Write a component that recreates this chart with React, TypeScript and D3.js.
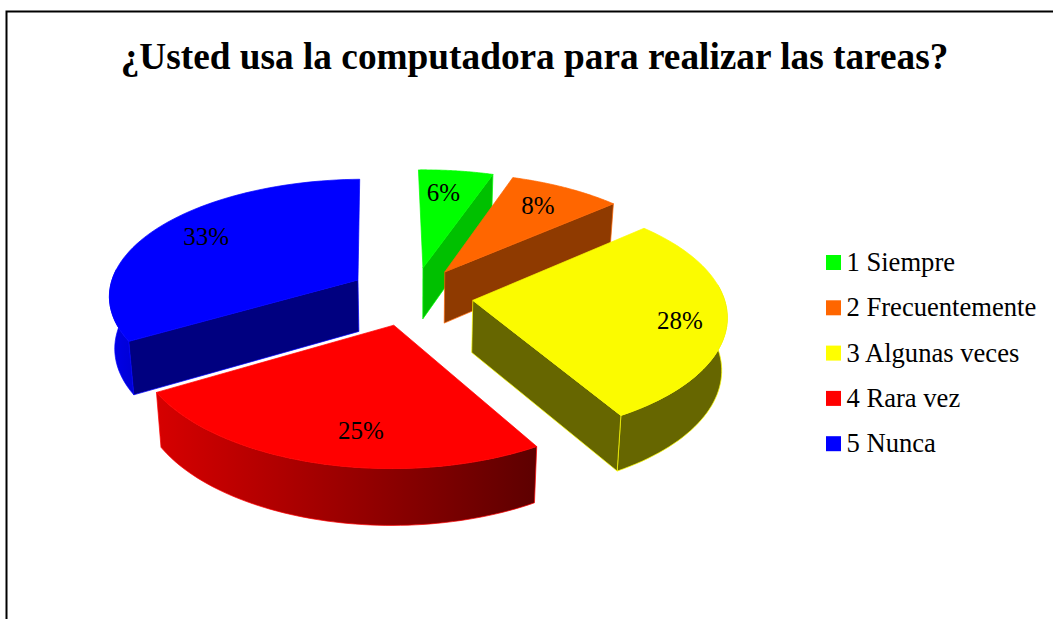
import React from "react";
import * as d3 from "d3";

const titleText = "¿Usted usa la computadora para realizar las tareas?";
const categories = ["1 Siempre", "2 Frecuentemente", "3 Algunas veces", "4 Rara vez", "5 Nunca"];
const values = [5.5, 8.3, 28, 25, 33.2];
const legendColors = ["#00FF00", "#FF6600", "#FFFF00", "#FF0000", "#0000FF"];
const topColors = ["#00FF00", "#FF6600", "#FBFB00", "#FF0000", "#0000FF"];
const faceColors = ["#00C000", "#8F3A00", "#666600", "#660000", "#000080"];
const wallColors = ["#00C000", "#8F3A00", "#666600", "url(#redWall)", "url(#blueWall)"];
const cutFaces = ["end", "end", "end", "none", "start"];
const labelRadius = [0.72, 0.75, 0.86, 0.78, 0.8];
const labelShiftX = [-3, 0, -9, 21, 5];
const labelShiftY = [-3, -1, 6, 6, -2];
const sliceShiftX = [1, 0, 2, -4, -5];
const sliceShiftY = [0, 0, 2, 4, -1];

const WIDTH = 1053;
const HEIGHT = 619;
const CX = 413;
const CY = 294;
const RX = 250;
const RY = 117;
const PERSPECTIVE_X = 0.12;
const PERSPECTIVE_Y = 0.13;
const EXPLODE = 0.233;
const SKEW = 3.5;
const TILT = 2;
const DEPTH = 52;
const DEPTH_GROW = 4;
const BOTTOM_SHRINK = 0.982;
const WALL_LIMIT = -0.12;

type P = [number, number];

// ground plane (X to the right, Y towards the viewer) to screen
function project(X: number, Y: number, low: boolean): P {
  let x = CX + (RX * X) / (1 - PERSPECTIVE_X * Y) + SKEW * Y;
  let y = CY + (RY * Y) / (1 - PERSPECTIVE_Y * Y) - TILT * X;
  if (low) {
    x = CX + (x - CX) * BOTTOM_SHRINK;
    y += DEPTH + DEPTH_GROW * Y;
  }
  return [x, y];
}

const pieLayout = d3.pie<number>().sort(null).startAngle(0).endAngle(2 * Math.PI);
const arcs = pieLayout(values);
const line = d3.line<P>();

function pointOn(mid: number, angle: number, r: number, low: boolean): P {
  return project(
    EXPLODE * Math.sin(mid) + r * Math.sin(angle),
    -EXPLODE * Math.cos(mid) - r * Math.cos(angle),
    low
  );
}

function sweep(a: (typeof arcs)[number]): number[] {
  return d3.range(0, 61).map((i) => a.startAngle + ((a.endAngle - a.startAngle) * i) / 60);
}

export default function App() {
  return (
    <svg
      width={WIDTH}
      height={HEIGHT}
      style={{ position: "absolute", left: 0, top: 0, background: "#fff" }}
      fontFamily="'Liberation Serif', serif"
    >
      <defs>
        <linearGradient id="redWall" gradientUnits="userSpaceOnUse" x1={155} x2={538} y1={0} y2={0}>
          <stop offset="0" stopColor="#D80000" />
          <stop offset="1" stopColor="#5E0000" />
        </linearGradient>
        <linearGradient id="blueWall" gradientUnits="userSpaceOnUse" x1={110} x2={135} y1={0} y2={0}>
          <stop offset="0" stopColor="#0000F0" />
          <stop offset="1" stopColor="#0000D8" />
        </linearGradient>
      </defs>

      <path d="M1053,11.5 H6.5 V619" fill="none" stroke="#000" strokeWidth={2} />

      <text x={534.5} y={69} textAnchor="middle" fontSize={37.3} fontWeight="bold" fill="#000">
        {titleText}
      </text>

      {arcs.map((a, i) => {
        const mid = (a.startAngle + a.endAngle) / 2;
        const angles = sweep(a);
        const top = angles.map((t) => pointOn(mid, t, 1, false));
        const wallAngles = angles.filter((t) => -Math.cos(t) > WALL_LIMIT);
        const wallTop = wallAngles.map((t) => pointOn(mid, t, 1, false));
        const wallLow = wallAngles.map((t) => pointOn(mid, t, 1, true));
        const apexTop = pointOn(mid, mid, 0, false);
        const apexLow = pointOn(mid, mid, 0, true);
        const edge = cutFaces[i] === "end" ? a.endAngle : a.startAngle;
        const stroke = legendColors[i];
        return (
          <g key={categories[i]} transform={`translate(${sliceShiftX[i]},${sliceShiftY[i]})`}>
            {wallAngles.length > 0 && (
              <path
                d={line([...wallTop, ...wallLow.slice().reverse()]) + "Z"}
                fill={wallColors[i]}
                stroke={stroke}
                strokeWidth={0.7}
              />
            )}
            {cutFaces[i] !== "none" && (
              <path
                d={
                  line([
                    apexTop,
                    pointOn(mid, edge, 1, false),
                    pointOn(mid, edge, 1, true),
                    apexLow,
                  ]) + "Z"
                }
                fill={faceColors[i]}
                stroke={stroke}
                strokeWidth={0.7}
              />
            )}
            <path
              d={line([apexTop, ...top]) + "Z"}
              fill={topColors[i]}
              stroke={topColors[i]}
              strokeWidth={0.7}
            />
          </g>
        );
      })}

      {arcs.map((a, i) => {
        const mid = (a.startAngle + a.endAngle) / 2;
        const [x, y] = pointOn(mid, mid, labelRadius[i], false);
        return (
          <text
            key={i}
            x={x + labelShiftX[i]}
            y={y + 8 + labelShiftY[i]}
            textAnchor="middle"
            fontSize={25}
            fill="#000"
          >
            {Math.round(values[i])}%
          </text>
        );
      })}

      {categories.map((c, i) => (
        <g key={c} transform={`translate(0,${255 + i * 45.3})`}>
          <rect x={826} y={0} width={15} height={15} fill={legendColors[i]} />
          <text x={846.5} y={16} fontSize={26.6} fill="#000">
            {c}
          </text>
        </g>
      ))}
    </svg>
  );
}
